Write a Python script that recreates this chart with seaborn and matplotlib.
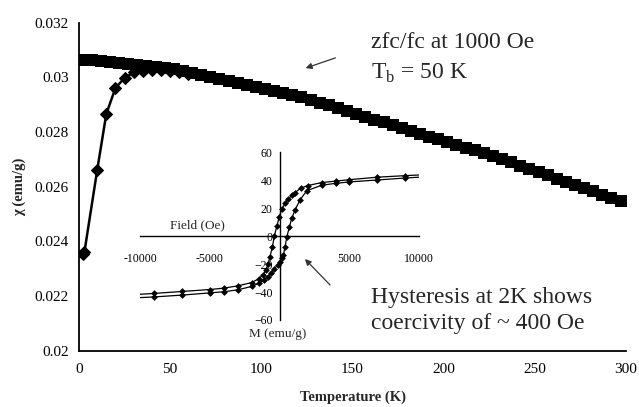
import matplotlib
matplotlib.use("Agg")
import matplotlib.pyplot as plt
import seaborn as sns
import numpy as np

# field-cooled curve (squares)
fc_t = [2, 7, 12, 17, 22, 27, 32, 37, 42, 47, 52, 57, 62, 67, 72, 77, 82, 87, 92, 97,
        102, 107, 112, 117, 122, 127, 132, 137, 142, 147, 152, 157, 162, 167, 172, 177,
        182, 187, 192, 197, 202, 207, 212, 217, 222, 227, 232, 237, 242, 247, 252, 257,
        262, 267, 272, 277, 282, 287, 292, 297]
fc_chi = [0.03065, 0.03063, 0.03060, 0.03057, 0.03054, 0.03050, 0.03047, 0.03043, 0.03039,
          0.03034, 0.03029, 0.03022, 0.03015, 0.03008, 0.03001, 0.02994, 0.02987, 0.02980,
          0.02973, 0.02966, 0.02958, 0.02951, 0.02943, 0.02936, 0.02929, 0.02919, 0.02908,
          0.02898, 0.02887, 0.02877, 0.02866, 0.02856, 0.02845, 0.02835, 0.02824, 0.02813,
          0.02803, 0.02793, 0.02783, 0.02773, 0.02763, 0.02753, 0.02743, 0.02733, 0.02723,
          0.02712, 0.02701, 0.02689, 0.02677, 0.02665, 0.02654, 0.02642, 0.02630, 0.02618,
          0.02607, 0.02595, 0.02583, 0.02571, 0.02559, 0.02547]

# zero-field-cooled curve (diamonds)
zfc_t = [2, 3, 10, 15, 20, 25, 30, 35, 40, 45, 50, 55, 60]
zfc_chi = [0.02352, 0.02362, 0.02661, 0.02867, 0.02961, 0.02998, 0.03018, 0.03025,
           0.03027, 0.03026, 0.03024, 0.03019, 0.03013]

# hysteresis loop at 2 K (inset)
desc_field = [10000, 9000, 7000, 5000, 4000, 3000, 2000, 1500, 1100, 870, 630, 390, 150,
              -20, -200, -380, -520, -690, -830, -1000, -1200, -1500, -2000, -3000, -4000,
              -5000, -7000, -9000, -10000]
desc_m = [43.8, 43.3, 42.2, 40.4, 39.4, 38.3, 36.2, 34.2, 31.2, 29.4, 26.6, 23.5, 19.2,
          14.0, 7.3, 0.0, -7.5, -14.6, -20.0, -24.5, -27.8, -30.5, -33.2, -35.6, -37.2,
          -38.2, -39.6, -41.0, -41.6]
asc_field = [-10000, -9000, -7000, -5000, -4000, -3000, -2000, -1500, -1100, -870, -630,
             -390, -150, 0, 150, 270, 390, 510, 690, 870, 1100, 1460, 1940, 3000, 4000,
             5000, 7000, 9000, 10000]
asc_m = [-44.0, -43.5, -42.2, -40.6, -39.8, -38.4, -36.0, -33.8, -31.2, -29.0, -26.5,
         -23.5, -20.5, -18.2, -16.0, -13.4, -7.5, -0.8, 6.4, 12.8, 18.7, 25.9, 32.5, 36.4,
         37.8, 38.8, 40.2, 41.6, 42.2]

x_ticks = [0, 50, 100, 150, 200, 250, 300]
y_ticks = [0.02, 0.022, 0.024, 0.026, 0.028, 0.03, 0.032]
inset_x_ticks = [-10000, -5000, 0, 5000, 10000]
inset_x_labels = ['-10000', '-5000', '', '5000', '10000']
inset_y_ticks = [-60, -40, -20, 0, 20, 40, 60]

sns.set_style("white")
plt.rcParams['font.family'] = ['Liberation Serif', 'DejaVu Serif']

fig = plt.figure(figsize=(6.39, 4.07), dpi=100)
ax = fig.add_axes([0.1236, 0.1383, 0.8561, 0.8059])

sns.scatterplot(x=fc_t, y=fc_chi, marker='s', s=85, color='black', edgecolor='black',
                linewidth=0, ax=ax, zorder=3)
sns.lineplot(x=zfc_t, y=zfc_chi, color='black', linewidth=1.8, marker='D', markersize=6.5,
             markeredgecolor='black', sort=False, estimator=None, ax=ax, zorder=2)

ax.set_xlim(0, 300)
ax.set_ylim(0.02, 0.032)
ax.set_xticks(x_ticks)
ax.set_yticks(y_ticks)
ax.set_yticklabels([f'{v:g}' for v in y_ticks])
for s in ['top', 'right']:
    ax.spines[s].set_visible(False)
for s in ['left', 'bottom']:
    ax.spines[s].set_color('black')
    ax.spines[s].set_linewidth(1.3)
ax.tick_params(direction='inout', length=9, width=1.2, labelsize=11, colors='black')
ax.tick_params(axis='y', pad=3)
ax.tick_params(axis='x', pad=4)
ax.set_xlabel('Temperature (K)', fontsize=10.5, fontweight='bold', labelpad=11)
ax.set_ylabel('χ (emu/g)', fontsize=10.5, fontweight='bold', labelpad=6)

fs = 17
fig.text(371 / 639, 1 - 43 / 407, 'zfc/fc at 1000 Oe', fontsize=fs, va='center', ha='left')
fig.text(371 / 639, 1 - 73 / 407, r'T$_\mathregular{b}$ = 50 K', fontsize=fs,
         va='center', ha='left')
fig.text(371 / 639, 1 - 297 / 407, 'Hysteresis at 2K shows', fontsize=fs,
         va='center', ha='left')
fig.text(371 / 639, 1 - 323 / 407, 'coercivity of ~ 400 Oe', fontsize=fs,
         va='center', ha='left')
arrow = dict(arrowstyle='-|>', color='#333333', lw=0.9, mutation_scale=9)
ax.annotate('', xy=(303 / 639, 1 - 69 / 407), xytext=(338 / 639, 1 - 57 / 407),
            xycoords='figure fraction', textcoords='figure fraction', arrowprops=arrow)
ax.annotate('', xy=(303 / 639, 1 - 257 / 407), xytext=(332 / 639, 1 - 287 / 407),
            xycoords='figure fraction', textcoords='figure fraction', arrowprops=arrow)

# inset
axi = fig.add_axes([0.2191, 0.2138, 0.4371, 0.4120])
axi.patch.set_alpha(0)
sns.lineplot(x=desc_field, y=desc_m, color='black', linewidth=0.9, sort=False,
             estimator=None, ax=axi)
sns.lineplot(x=asc_field, y=asc_m, color='black', linewidth=0.9, sort=False,
             estimator=None, ax=axi)
sns.scatterplot(x=desc_field[1:-1], y=desc_m[1:-1], marker='D', s=12, color='black',
                linewidth=0, ax=axi)
sns.scatterplot(x=asc_field[1:-1], y=asc_m[1:-1], marker='D', s=12, color='black',
                linewidth=0, ax=axi)
axi.set_xlim(-10000, 10000)
axi.set_ylim(-60, 60)
axi.spines['left'].set_position(('data', 0))
axi.spines['bottom'].set_position(('data', 0))
for s in ['top', 'right']:
    axi.spines[s].set_visible(False)
for s in ['left', 'bottom']:
    axi.spines[s].set_color('black')
    axi.spines[s].set_linewidth(1.0)
axi.set_xticks(inset_x_ticks)
axi.set_xticklabels(inset_x_labels)
axi.set_yticks(inset_y_ticks)
axi.tick_params(direction='out', length=4, width=0.9, labelsize=8.5, colors='black')
axi.tick_params(axis='x', pad=8)
axi.tick_params(axis='y', pad=1)
axi.set_xlabel('')
axi.set_ylabel('')
axi.text(-5900, 8, 'Field (Oe)', fontsize=9.5, ha='center', va='center')
axi.text(-150, -70, 'M (emu/g)', fontsize=9.5, ha='center', va='center')

fig.savefig('out.png', dpi=100)
